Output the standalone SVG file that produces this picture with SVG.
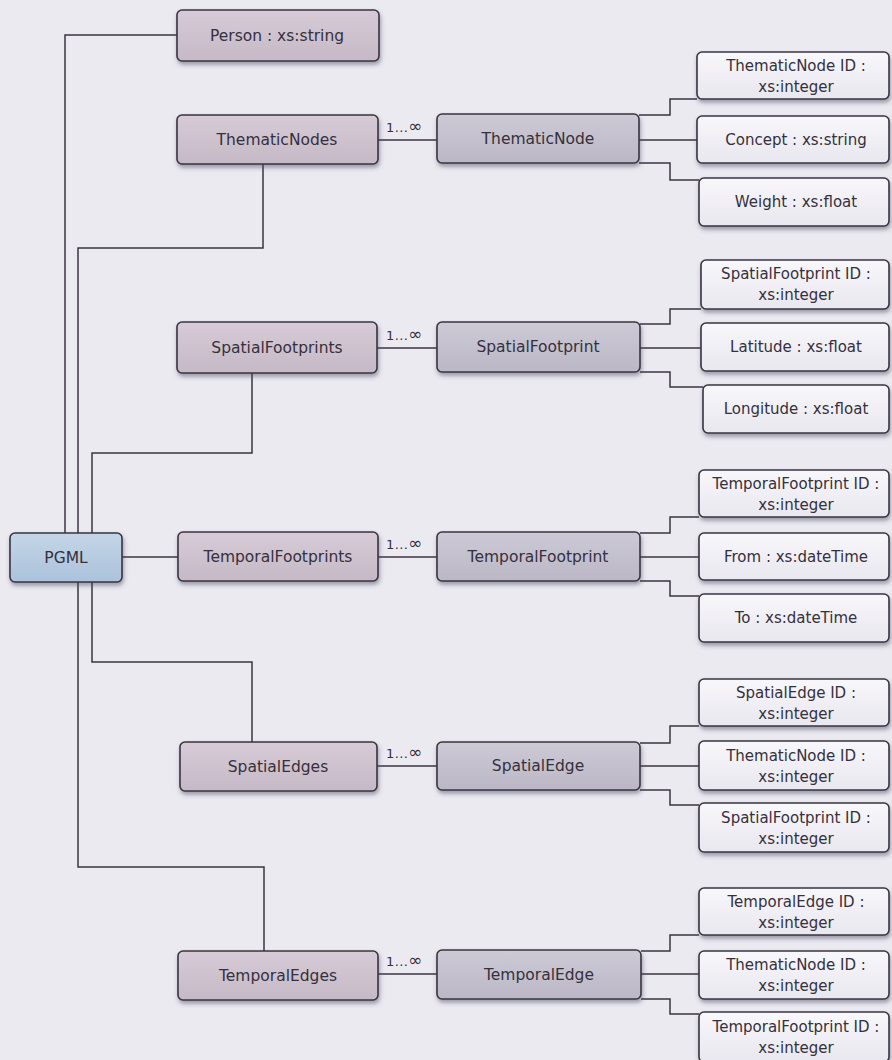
<svg xmlns="http://www.w3.org/2000/svg" width="892" height="1060" viewBox="0 0 892 1060">
  <defs>
    <linearGradient id="gEntity" x1="0" y1="0" x2="0" y2="1">
      <stop offset="0" stop-color="#d6cbd6"/>
      <stop offset="1" stop-color="#c6b9c7"/>
    </linearGradient>
    <linearGradient id="gItem" x1="0" y1="0" x2="0" y2="1">
      <stop offset="0" stop-color="#cdcad6"/>
      <stop offset="1" stop-color="#bbb7c6"/>
    </linearGradient>
    <linearGradient id="gRoot" x1="0" y1="0" x2="0" y2="1">
      <stop offset="0" stop-color="#c4d5e7"/>
      <stop offset="1" stop-color="#abc2db"/>
    </linearGradient>
    <linearGradient id="gAttr" x1="0" y1="0" x2="0" y2="1">
      <stop offset="0" stop-color="#f8f7fb"/>
      <stop offset="1" stop-color="#e9e7ef"/>
    </linearGradient>
    <filter id="shadow" x="-10%" y="-20%" width="120%" height="160%">
      <feDropShadow dx="1" dy="3" stdDeviation="2" flood-color="#4a4560" flood-opacity="0.5"/>
    </filter>
  </defs>
  <style>
    .box { stroke: #3a3440; stroke-width: 1.6; filter: url(#shadow); }
    .entity { fill: url(#gEntity); }
    .item { fill: url(#gItem); }
    .root { fill: url(#gRoot); }
    .attr { fill: url(#gAttr); }
    text { font-family: "DejaVu Sans", "Liberation Sans", sans-serif; font-size: 15px; fill: #35303c; text-anchor: middle; }
    .big { font-size: 15.5px; }
    .mult { font-size: 13px; text-anchor: start; letter-spacing: 0.4px; }
    .inf { font-size: 17px; }
    #connectors path { fill: none; stroke: #3b3540; stroke-width: 1.5; }
  </style>

  <rect width="892" height="1060" fill="#ebeaf1"/>

  <!-- tree lines and element links -->
  <g id="connectors">
    <path d="M177,35 H65 V533"/>
    <path d="M263,164 V248 H78 V533"/>
    <path d="M252,373 V453 H92 V533"/>
    <path d="M122,557 H178"/>
    <path d="M92,582 V662 H252 V742"/>
    <path d="M78,582 V867 H264 V951"/>

    <path d="M378,140 H437"/>
    <path d="M377,348 H437"/>
    <path d="M378,557 H437"/>
    <path d="M377,766 H437"/>
    <path d="M378,974 H437"/>

    <path d="M639,115 H670 V99 H697"/>
    <path d="M639,140 H697"/>
    <path d="M639,163 H670 V180 H699"/>

    <path d="M640,324 H670 V309 H701"/>
    <path d="M640,348 H701"/>
    <path d="M640,372 H670 V387 H703"/>

    <path d="M640,533 H670 V517 H699"/>
    <path d="M640,557 H699"/>
    <path d="M640,581 H670 V596 H699"/>

    <path d="M640,743 H670 V726 H699"/>
    <path d="M640,766 H699"/>
    <path d="M640,790 H670 V805 H699"/>

    <path d="M641,951 H670 V935 H699"/>
    <path d="M641,974 H699"/>
    <path d="M641,999 H670 V1014 H699"/>
  </g>

  <!-- multiplicities -->
  <g id="multiplicities">
    <text class="mult" x="386" y="132">1...<tspan class="inf">∞</tspan></text>
    <text class="mult" x="386" y="340">1...<tspan class="inf">∞</tspan></text>
    <text class="mult" x="386" y="549">1...<tspan class="inf">∞</tspan></text>
    <text class="mult" x="386" y="758">1...<tspan class="inf">∞</tspan></text>
    <text class="mult" x="386" y="966">1...<tspan class="inf">∞</tspan></text>
  </g>

  <!-- root -->
  <g id="pgml">
    <rect class="box root" x="10" y="533" width="112" height="49" rx="5"/>
    <text class="big" x="66" y="563">PGML</text>
  </g>

  <!-- top-level children -->
  <g id="person">
    <rect class="box entity" x="177" y="10" width="202" height="51" rx="5"/>
    <text class="big" x="277" y="41">Person : xs:string</text>
  </g>
  <g id="thematicNodes">
    <rect class="box entity" x="177" y="115" width="201" height="49" rx="5"/>
    <text class="big" x="277" y="145">ThematicNodes</text>
  </g>
  <g id="spatialFootprints">
    <rect class="box entity" x="177" y="322" width="200" height="51" rx="5"/>
    <text class="big" x="277" y="353">SpatialFootprints</text>
  </g>
  <g id="temporalFootprints">
    <rect class="box entity" x="178" y="532" width="200" height="49" rx="5"/>
    <text class="big" x="278" y="562">TemporalFootprints</text>
  </g>
  <g id="spatialEdges">
    <rect class="box entity" x="180" y="742" width="197" height="49" rx="5"/>
    <text class="big" x="278" y="772">SpatialEdges</text>
  </g>
  <g id="temporalEdges">
    <rect class="box entity" x="178" y="951" width="200" height="49" rx="5"/>
    <text class="big" x="278" y="981">TemporalEdges</text>
  </g>

  <!-- repeated elements -->
  <g id="thematicNode">
    <rect class="box item" x="437" y="114" width="202" height="49" rx="5"/>
    <text class="big" x="538" y="144">ThematicNode</text>
  </g>
  <g id="spatialFootprint">
    <rect class="box item" x="437" y="322" width="203" height="50" rx="5"/>
    <text class="big" x="538" y="352">SpatialFootprint</text>
  </g>
  <g id="temporalFootprint">
    <rect class="box item" x="437" y="532" width="203" height="49" rx="5"/>
    <text class="big" x="538" y="562">TemporalFootprint</text>
  </g>
  <g id="spatialEdge">
    <rect class="box item" x="437" y="742" width="203" height="48" rx="5"/>
    <text class="big" x="538" y="771">SpatialEdge</text>
  </g>
  <g id="temporalEdge">
    <rect class="box item" x="437" y="950" width="204" height="49" rx="5"/>
    <text class="big" x="539" y="980">TemporalEdge</text>
  </g>

  <!-- attributes -->
  <g id="tnId">
    <rect class="box attr" x="697" y="52" width="192" height="47" rx="5"/>
    <text x="796" y="71">ThematicNode ID :</text>
    <text x="796" y="92">xs:integer</text>
  </g>
  <g id="tnConcept">
    <rect class="box attr" x="697" y="116" width="192" height="47" rx="5"/>
    <text x="796" y="145">Concept : xs:string</text>
  </g>
  <g id="tnWeight">
    <rect class="box attr" x="699" y="178" width="190" height="48" rx="5"/>
    <text x="796" y="207">Weight : xs:float</text>
  </g>

  <g id="sfId">
    <rect class="box attr" x="701" y="260" width="188" height="49" rx="5"/>
    <text x="796" y="279">SpatialFootprint ID :</text>
    <text x="796" y="300">xs:integer</text>
  </g>
  <g id="sfLatitude">
    <rect class="box attr" x="701" y="323" width="188" height="48" rx="5"/>
    <text x="796" y="352">Latitude : xs:float</text>
  </g>
  <g id="sfLongitude">
    <rect class="box attr" x="703" y="385" width="186" height="48" rx="5"/>
    <text x="796" y="414">Longitude : xs:float</text>
  </g>

  <g id="tfId">
    <rect class="box attr" x="699" y="470" width="190" height="47" rx="5"/>
    <text x="796" y="489">TemporalFootprint ID :</text>
    <text x="796" y="510">xs:integer</text>
  </g>
  <g id="tfFrom">
    <rect class="box attr" x="699" y="533" width="190" height="47" rx="5"/>
    <text x="796" y="562">From : xs:dateTime</text>
  </g>
  <g id="tfTo">
    <rect class="box attr" x="699" y="594" width="190" height="48" rx="5"/>
    <text x="796" y="623">To : xs:dateTime</text>
  </g>

  <g id="seId">
    <rect class="box attr" x="699" y="679" width="190" height="47" rx="5"/>
    <text x="796" y="698">SpatialEdge ID :</text>
    <text x="796" y="719">xs:integer</text>
  </g>
  <g id="seThematicNodeId">
    <rect class="box attr" x="699" y="741" width="190" height="49" rx="5"/>
    <text x="796" y="761">ThematicNode ID :</text>
    <text x="796" y="782">xs:integer</text>
  </g>
  <g id="seSpatialFootprintId">
    <rect class="box attr" x="699" y="803" width="190" height="49" rx="5"/>
    <text x="796" y="823">SpatialFootprint ID :</text>
    <text x="796" y="844">xs:integer</text>
  </g>

  <g id="teId">
    <rect class="box attr" x="699" y="888" width="190" height="47" rx="5"/>
    <text x="796" y="907">TemporalEdge ID :</text>
    <text x="796" y="928">xs:integer</text>
  </g>
  <g id="teThematicNodeId">
    <rect class="box attr" x="699" y="951" width="190" height="48" rx="5"/>
    <text x="796" y="970">ThematicNode ID :</text>
    <text x="796" y="991">xs:integer</text>
  </g>
  <g id="teTemporalFootprintId">
    <rect class="box attr" x="699" y="1012" width="190" height="50" rx="5"/>
    <text x="796" y="1032">TemporalFootprint ID :</text>
    <text x="796" y="1053">xs:integer</text>
  </g>
</svg>
